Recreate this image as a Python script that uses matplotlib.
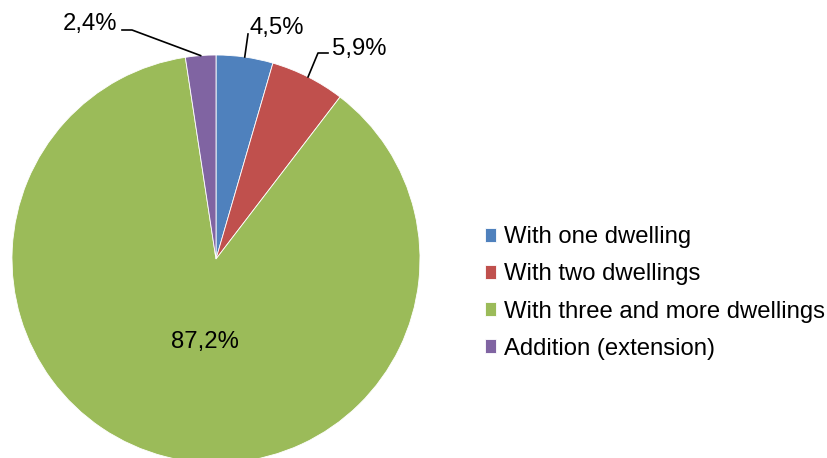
import numpy as np
import matplotlib.pyplot as plt

plt.rcParams["font.family"] = ["Liberation Sans", "DejaVu Sans"]

categories = ["With one dwelling", "With two dwellings",
              "With three and more dwellings", "Addition (extension)"]
shares = [4.5, 5.9, 87.2, 2.4]
value_labels = ["4,5%", "5,9%", "87,2%", "2,4%"]
colors = ["#4F81BD", "#C0504D", "#9BBB59", "#8064A2"]

W, H = 828, 458
fig = plt.figure(figsize=(W / 100, H / 100), dpi=100)
ax = fig.add_axes([0, 0, 1, 1])

cx, cy, r = 216, H - 259, 204
wedges, _ = ax.pie(shares, colors=colors, startangle=90, counterclock=False,
                   center=(cx, cy), radius=r,
                   wedgeprops=dict(edgecolor="white", linewidth=0.6))
ax.set_xlim(0, W)
ax.set_ylim(0, H)
ax.set_aspect("equal")
ax.axis("off")

def edge_point(w, frac=1.0):
    a = np.deg2rad((w.theta1 + w.theta2) / 2)
    return cx + frac * r * np.cos(a), cy + frac * r * np.sin(a)

fs = 17.2
# outside labels with leader lines: (text position, elbow point)
outside = {
    0: ((277, H - 28), (248, H - 34)),
    1: ((359, H - 49), (318, H - 53)),
    3: ((90, H - 24), (132, H - 30)),
}
for i, ((tx, ty), (ex, ey)) in outside.items():
    px, py = edge_point(wedges[i])
    if i == 0:
        ax.plot([px, ex], [py, ey], color="black", lw=1.2)
    elif i == 1:
        ax.plot([px, ex, ex + 10], [py, ey, ey], color="black", lw=1.2)
    else:
        ax.plot([px, ex, ex - 10], [py, ey, ey], color="black", lw=1.2)
    ax.text(tx, ty, value_labels[i], fontsize=fs, ha="center", va="center")

ax.text(205, H - 342, value_labels[2], fontsize=fs, ha="center", va="center")

ax.legend(wedges, categories, loc="center left", frameon=False,
          bbox_to_anchor=(485 / W, 1 - 293 / H), bbox_transform=fig.transFigure,
          borderaxespad=0, borderpad=0, fontsize=fs,
          handlelength=0.48, handleheight=0.48, handletextpad=0.3,
          labelspacing=0.63)

fig.savefig("out.png", dpi=100)
